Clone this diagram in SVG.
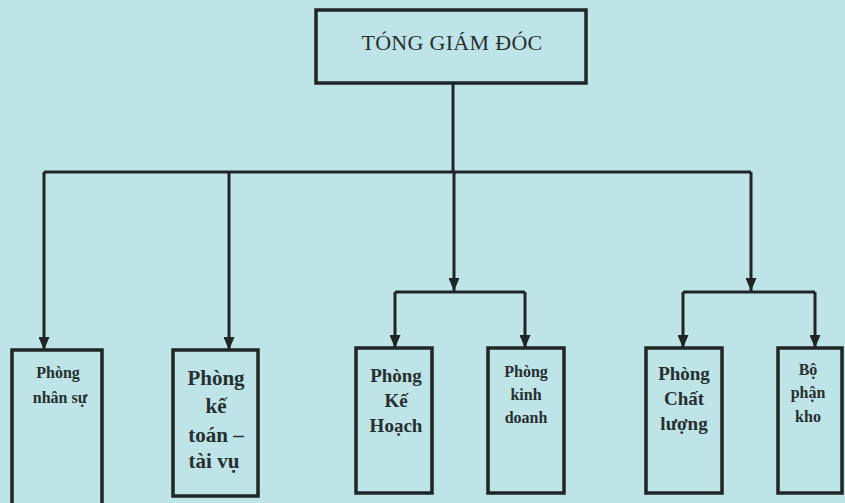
<svg xmlns="http://www.w3.org/2000/svg" width="845" height="503" viewBox="0 0 845 503">
<defs>
<marker id="ah" markerWidth="13" markerHeight="11" refX="13" refY="5.5" orient="auto" markerUnits="userSpaceOnUse" viewBox="0 0 13 11">
<path d="M0,0 L13,5.5 L0,11 Z" fill="#1e2626"/>
</marker>
<style>
.bg{fill:#bfe4e7}
.box{fill:none;stroke:#1e2626;stroke-width:3.5}
.ln{fill:none;stroke:#1e2626;stroke-width:3}
.ar{fill:none;stroke:#1e2626;stroke-width:3}
text{font-family:"Liberation Serif","DejaVu Serif",serif;fill:#263030;text-anchor:middle;font-weight:bold}
.t{font-weight:normal;font-size:22px;letter-spacing:0.3px}
.s15{font-size:16px}
.s18{font-size:19px}
.s20{font-size:21px}
</style>
</defs>
<rect class="bg" x="0" y="0" width="845" height="503"/>
<g id="connectors">
<path class="ln" d="M453,83 V172"/>
<path class="ln" d="M44,172 H751"/>
<path class="ar" d="M44,172 V350" marker-end="url(#ah)"/>
<path class="ar" d="M229,172 V350" marker-end="url(#ah)"/>
<path class="ar" d="M454,172 V291" marker-end="url(#ah)"/>
<path class="ar" d="M751,172 V291" marker-end="url(#ah)"/>
<path class="ln" d="M395,292 H525"/>
<path class="ar" d="M395,292 V348" marker-end="url(#ah)"/>
<path class="ar" d="M525,292 V348" marker-end="url(#ah)"/>
<path class="ln" d="M683,292 H815"/>
<path class="ar" d="M683,292 V348" marker-end="url(#ah)"/>
<path class="ar" d="M815,292 V348" marker-end="url(#ah)"/>
</g>
<g id="tgd">
<rect class="box" x="316" y="10" width="270" height="73"/>
<text class="t" x="452" y="50">TÓNG GIÁM ĐÓC</text>
</g>
<g id="nhansu">
<path class="box" d="M12,506 V350 H102 V506"/>
<text class="s15" x="58" y="378">Phòng</text>
<text class="s15" x="60" y="403">nhân sự</text>
</g>
<g id="ketoan">
<rect class="box" x="173" y="350" width="85" height="146"/>
<text class="s20" x="216" y="385">Phòng</text>
<text class="s20" x="216" y="413">kế</text>
<text class="s20" x="216" y="442">toán –</text>
<text class="s20" x="214" y="468">tài vụ</text>
</g>
<g id="kehoach">
<rect class="box" x="356" y="348" width="76" height="145"/>
<text class="s18" x="396" y="382">Phòng</text>
<text class="s18" x="396" y="407">Kế</text>
<text class="s18" x="396" y="432">Hoạch</text>
</g>
<g id="kinhdoanh">
<rect class="box" x="488" y="348" width="76" height="145"/>
<text class="s15" x="526" y="377">Phòng</text>
<text class="s15" x="526" y="400">kinh</text>
<text class="s15" x="526" y="423">doanh</text>
</g>
<g id="chatluong">
<rect class="box" x="646" y="348" width="76" height="145"/>
<text class="s18" x="684" y="380">Phòng</text>
<text class="s18" x="684" y="405">Chất</text>
<text class="s18" x="684" y="430">lượng</text>
</g>
<g id="kho">
<rect class="box" x="778" y="348" width="64" height="145"/>
<text class="s15" x="808" y="375">Bộ</text>
<text class="s15" x="808" y="398">phận</text>
<text class="s15" x="808" y="422">kho</text>
</g>
</svg>
